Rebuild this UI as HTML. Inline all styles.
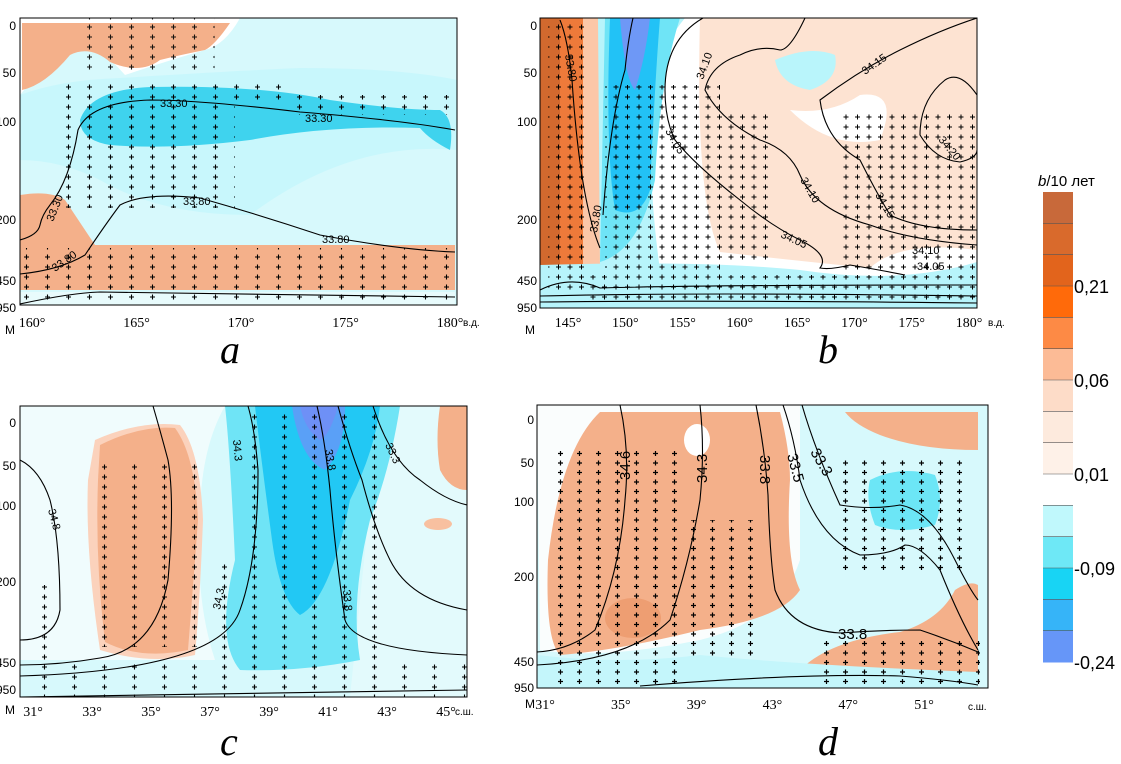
<!DOCTYPE html>
<html><head><meta charset="utf-8"><style>
body{margin:0;background:#fff}
svg{display:block;font-family:"Liberation Sans",sans-serif}
.t{font-size:12px}
.s{font-family:"Liberation Serif",serif;font-size:14px}
.lab{font-family:"Liberation Serif",serif;font-style:italic;font-size:40px}
.c{fill:none;stroke:#000;stroke-width:1.1}
.cl{font-size:11px}
</style></head><body>
<svg id="fig" width="1121" height="764" viewBox="0 0 1121 764">
<defs>
<pattern id="cra" x="1" y="2" width="21" height="10" patternUnits="userSpaceOnUse"><path d="M2,5h5M4.5,2.5v5" stroke="#000" stroke-width="1.1"/></pattern>
<pattern id="crb" x="2" y="2" width="11.5" height="10" patternUnits="userSpaceOnUse"><path d="M2,5h5M4.5,2.5v5" stroke="#000" stroke-width="1"/></pattern>
<pattern id="crc" x="10" y="2" width="30" height="10" patternUnits="userSpaceOnUse"><path d="M2,5h5M4.5,2.5v5" stroke="#000" stroke-width="1.1"/></pattern>
<pattern id="crd" x="5" y="2" width="19" height="9.5" patternUnits="userSpaceOnUse"><path d="M2,5h5M4.5,2.5v5" stroke="#000" stroke-width="1.2"/></pattern>
<clipPath id="ca"><rect x="20" y="18" width="437" height="287"/></clipPath>
<clipPath id="cb"><rect x="540" y="18" width="437" height="290"/></clipPath>
<clipPath id="cc"><rect x="20" y="406" width="447" height="291"/></clipPath>
<clipPath id="cd"><rect x="537" y="405" width="451" height="283"/></clipPath>
</defs>

<g clip-path="url(#ca)">
<rect x="20" y="18" width="437" height="287" fill="#d7f9fc"/>
<path d="M20,18H240Q225,45 205,50Q170,60 125,75Q95,40 65,45Q40,70 20,95Z" fill="#ffffff"/>
<path d="M22,23H230Q215,45 205,50Q180,55 160,60Q140,75 110,62Q90,45 70,55Q45,85 22,90Z" fill="#f4b08a"/>
<path d="M20,95Q60,80 120,78Q250,70 300,68Q400,68 457,80V150Q350,140 250,215Q160,215 100,180Q60,160 20,160Z" fill="#c4f6fb" opacity=".8"/>
<path d="M80,120Q90,90 150,87Q260,85 330,100Q400,110 440,110Q455,118 450,150Q430,140 420,128Q330,125 250,140Q170,150 110,145Q80,140 80,120Z" fill="#3fd3ee"/>
<path d="M20,195Q50,190 65,200Q85,230 95,245H455V290H20Z" fill="#f4b08a"/>
<path d="M20,292H455V305H20Z" fill="#e8fbfc"/>
<rect x="75" y="18" width="140" height="55" fill="url(#cra)" opacity=".9"/>
<rect x="55" y="83" width="180" height="125" fill="url(#cra)"/>
<rect x="235" y="83" width="50" height="20" fill="url(#cra)"/>
<rect x="285" y="95" width="170" height="20" fill="url(#cra)"/>
<rect x="20" y="248" width="440" height="57" fill="url(#cra)"/>
<path class="c" d="M20,240Q38,235 40,225Q42,215 50,205Q70,180 78,130Q90,102 150,100Q200,100 300,112Q400,120 455,130"/>
<path class="c" d="M20,274Q60,270 85,255Q105,225 120,205Q145,192 200,198Q260,215 320,235Q400,250 455,252"/>
<path class="c" d="M20,304Q70,293 100,292Q250,294 455,297"/>
<text class="cl" x="160" y="107">33.30</text><text class="cl" x="305" y="122">33.30</text>
<text class="cl" x="183" y="205">33.80</text><text class="cl" x="322" y="243">33.80</text>
<text class="cl" transform="translate(53,222) rotate(-68)">33.30</text>
<text class="cl" transform="translate(55,272) rotate(-35)">33.80</text>
</g>
<rect x="20" y="18" width="437" height="287" fill="none" stroke="#000"/>

<g clip-path="url(#cb)">
<rect x="540" y="18" width="437" height="290" fill="#ffffff"/>
<rect x="540" y="18" width="30" height="270" fill="#d2692e"/>
<path d="M560,18H585Q590,150 590,270L560,290Z" fill="#ee7a3a"/>
<path d="M583,18H600V290H583Z" fill="#fbc7a8"/>
<path d="M598,18H685Q650,60 650,120Q650,200 660,270H600Z" fill="#b7f4fb"/>
<path d="M605,18H680Q660,80 655,180Q640,250 600,262Z" fill="#6fe4f6"/>
<path d="M610,18H660Q655,80 650,190Q640,220 615,210Q605,150 610,18Z" fill="#22c2f6"/>
<path d="M620,18H650Q645,60 635,90Q625,80 620,18Z" fill="#6e98f6"/>
<path d="M700,18H977V250Q900,240 870,268Q790,260 720,252Q695,200 700,18Z" fill="#fde3d2"/>
<path d="M775,60Q810,45 835,55Q840,80 810,90Q780,85 775,60Z" fill="#b9f5fb"/>
<path d="M790,110Q830,115 860,95Q900,90 880,140Q830,150 790,110Z" fill="#ffffff"/>
<path d="M540,265Q700,260 800,270Q900,285 977,262V308H540Z" fill="#b7f4fb"/>
<rect x="548" y="22" width="40" height="270" fill="url(#crb)"/>
<rect x="605" y="85" width="115" height="200" fill="url(#crb)"/>
<rect x="700" y="110" width="70" height="150" fill="url(#crb)"/>
<rect x="840" y="110" width="135" height="160" fill="url(#crb)"/>
<rect x="590" y="275" width="390" height="28" fill="url(#crb)"/>
<path class="c" d="M560,20Q568,40 572,80Q580,200 600,248"/>
<path class="c" d="M603,215Q610,120 625,70Q628,40 633,18"/>
<path class="c" d="M703,18Q665,40 665,90Q665,120 675,140Q695,165 740,200Q770,225 800,240Q830,255 820,268Q830,270 850,265Q880,270 905,275"/>
<path class="c" d="M805,18Q790,50 780,50Q760,45 740,55Q710,65 705,90Q720,120 760,140Q790,150 800,175Q815,210 870,225Q910,240 977,245"/>
<path class="c" d="M977,18Q940,30 900,50Q860,70 820,100Q825,140 860,160Q875,190 890,215Q920,230 977,230"/>
<path class="c" d="M977,95Q960,70 945,80Q920,100 920,135Q935,160 960,162Q977,158 977,150"/>
<path class="c" d="M540,290Q570,275 600,288Q700,285 977,285"/>
<path class="c" d="M540,296Q700,292 977,296"/>
<path class="c" d="M540,302Q700,300 977,303"/>
<text class="cl" transform="translate(565,55) rotate(80)">33.80</text>
<text class="cl" transform="translate(597,233) rotate(-80)">33.80</text>
<text class="cl" transform="translate(665,131) rotate(60)">34.05</text>
<text class="cl" transform="translate(703,80) rotate(-70)">34.10</text>
<text class="cl" x="780" y="237" transform="rotate(25 780 237)">34.05</text>
<text class="cl" transform="translate(800,180) rotate(60)">34.10</text>
<text class="cl" transform="translate(865,75) rotate(-35)">34.15</text>
<text class="cl" transform="translate(938,140) rotate(50)">34.20</text>
<text class="cl" transform="translate(875,195) rotate(60)">34.15</text>
<text class="cl" x="912" y="254">34.10</text><text class="cl" x="917" y="270">34.05</text>
</g>
<rect x="540" y="18" width="437" height="290" fill="none" stroke="#000"/>

<g clip-path="url(#cc)">
<rect x="20" y="406" width="447" height="291" fill="#d7f9fc"/>
<path d="M20,406H225Q200,450 200,520Q195,600 215,660H20Z" fill="#f0fcfd"/>
<path d="M380,406H467V697H350Q360,600 380,406Z" fill="#e3fafc"/>
<path d="M95,440Q140,420 180,425Q200,450 203,520Q200,600 195,655Q150,665 100,650Q85,550 88,480Z" fill="#fbd2bc"/>
<path d="M100,445Q140,425 175,428Q195,455 198,520Q192,600 188,650Q140,660 105,642Q95,560 98,480Z" fill="#f4b08a"/>
<path d="M225,406H400Q390,470 370,520Q350,600 360,660Q300,672 240,670Q215,640 235,560Q230,450 225,406Z" fill="#6fe4f6"/>
<path d="M255,406H380Q375,450 350,500Q330,600 300,615Q280,600 272,540Q260,450 255,406Z" fill="#22c8f4"/>
<path d="M292,406H345Q345,450 325,470Q300,460 292,406Z" fill="#5aa0f7"/>
<path d="M300,406H338Q330,435 320,440Q305,430 300,406Z" fill="#6e90f6"/>
<path d="M440,406H467V490Q450,490 440,470Q435,440 440,406Z" fill="#f4b08a"/>
<ellipse cx="438" cy="524" rx="14" ry="6" fill="#f8c0a0"/>
<rect x="100" y="462" width="110" height="185" fill="url(#crc)"/>
<rect x="40" y="585" width="20" height="112" fill="url(#crc)"/>
<rect x="220" y="560" width="35" height="135" fill="url(#crc)"/>
<rect x="250" y="412" width="140" height="285" fill="url(#crc)"/>
<rect x="60" y="660" width="407" height="37" fill="url(#crc)"/>
<path class="c" d="M20,460Q40,470 50,500Q60,540 60,610Q55,640 20,640"/>
<path class="c" d="M153,406Q160,430 168,460Q175,500 168,580Q155,650 100,658Q60,665 20,665"/>
<path class="c" d="M248,406Q255,430 258,470Q258,560 240,610Q220,670 20,676"/>
<path class="c" d="M317,406Q325,440 330,490Q335,550 345,620Q355,650 467,655"/>
<path class="c" d="M338,406Q350,450 362,480Q375,530 390,560Q410,600 467,610"/>
<path class="c" d="M373,406Q390,460 420,480Q445,500 467,505"/>
<path class="c" d="M20,697Q300,692 467,690"/>
<text class="cl" transform="translate(48,510) rotate(75)">34.8</text>
<text class="cl" transform="translate(233,440) rotate(85)">34.3</text>
<text class="cl" transform="translate(220,610) rotate(-78)">34.3</text>
<text class="cl" transform="translate(325,450) rotate(80)">33.8</text>
<text class="cl" transform="translate(343,590) rotate(85)">33.8</text>
<text class="cl" transform="translate(385,445) rotate(65)">33.3</text>
</g>
<rect x="20" y="406" width="447" height="291" fill="none" stroke="#000"/>

<g clip-path="url(#cd)">
<rect x="537" y="405" width="451" height="283" fill="#d7f9fc"/>
<path d="M537,405H800V560Q780,620 700,640Q600,660 540,650Z" fill="#fafdfd"/>
<path d="M600,412H780Q790,450 790,480Q785,560 800,590Q780,620 700,630Q620,650 560,655Q545,640 548,560Q560,450 600,412Z" fill="#f4b08a"/>
<ellipse cx="633" cy="618" rx="28" ry="20" fill="#ee9e72"/>
<ellipse cx="697" cy="440" rx="13" ry="16" fill="#ffffff"/>
<path d="M845,412H978V450Q920,450 880,435Q855,425 845,412Z" fill="#f4b08a"/>
<path d="M870,480Q900,465 935,475Q945,500 935,525Q900,535 875,525Q865,500 870,480Z" fill="#6ce6f6"/>
<path d="M800,670Q830,640 900,632Q940,620 955,590Q970,580 978,585V680H800Z" fill="#f4b08a"/>
<path d="M537,655Q620,665 700,655Q800,665 978,672V688H537Z" fill="#c4f6fb"/>
<rect x="555" y="450" width="130" height="238" fill="url(#crd)"/>
<rect x="685" y="520" width="75" height="140" fill="url(#crd)"/>
<rect x="840" y="460" width="130" height="110" fill="url(#crd)"/>
<rect x="820" y="640" width="160" height="48" fill="url(#crd)"/>
<path class="c" d="M620,405Q630,450 625,500Q620,570 595,630Q570,650 537,652"/>
<path class="c" d="M700,405Q705,450 700,500Q690,560 670,620Q630,660 537,665"/>
<path class="c" d="M756,405Q765,450 768,495Q770,560 775,590Q790,630 840,633Q880,630 920,630Q950,640 978,652"/>
<path class="c" d="M783,405Q795,440 800,480Q820,540 860,555Q890,555 905,545Q920,545 940,570Q960,620 978,650"/>
<path class="c" d="M802,405Q815,450 840,505Q870,510 900,505Q930,510 955,560Q970,590 978,600"/>
<path class="c" d="M640,686Q800,673 900,676Q950,680 978,685"/>
</g>
<rect x="537" y="405" width="451" height="283" fill="none" stroke="#000"/>
<g>
<text transform="translate(630,480) rotate(-90)" style="font-size:15px">34.6</text>
<text transform="translate(707,483) rotate(-90)" style="font-size:15px">34.3</text>
<text transform="translate(760,455) rotate(90)" style="font-size:15px">33.8</text>
<text transform="translate(787,455) rotate(75)" style="font-size:15px">33.5</text>
<text transform="translate(810,452) rotate(60)" style="font-size:15px">33.3</text>
<text x="838" y="639" style="font-size:15px">33.8</text>
</g>

<g id="axes"></g>

<g id="cbar">
<text x="1038" y="186" style="font-size:15px"><tspan font-style="italic">b</tspan>/10 лет</text>
</g>

<text class="lab" x="220" y="363">a</text>
<text class="lab" x="818" y="363">b</text>
<text class="lab" x="220" y="755">c</text>
<text class="lab" x="818" y="755">d</text>
</svg>
<script>
const depthLabels=["0","50","100","200","450","950"];
const aDepthY=[26,73,122,220,281,308];
const cDepthY=[423,466,506,582,663,690];
const dDepthY=[420,463,502,577,662,688];
const aLon=[160,165,170,175,180];
const bLon=[145,150,155,160,165,170,175,180];
const cLat=[31,33,35,37,39,41,43,45];
const dLat=[31,35,39,43,47,51];
const cbColors=["#c8693a","#d96a2c","#e2641c","#ff6a0a","#fd8a45","#fcbb96","#fddcc8","#fdeadd","#fef1e8","#ffffff","#c0f8fc","#6ee8f6","#18d4f4","#36b4f8","#6696f8"];
const cbTicks=["0,21","0,06","0,01","-0,09","-0,24"];
const cbTickIdx=[3,6,9,12,15];
const NS="http://www.w3.org/2000/svg";
const axG=document.getElementById('axes');
function mk(tag,at,txt){const e=document.createElementNS(NS,tag);for(const k in at)e.setAttribute(k,at[k]);if(txt!==undefined)e.textContent=txt;return e;}
function depth(yArr,x){depthLabels.forEach((l,i)=>{const t=mk('text',{x:x,y:yArr[i]+4,'text-anchor':'end','class':'t'},l);


axG.appendChild(t);});}
function xt(arr,v0,v1,p0,p1,y){arr.forEach(v=>{const x=p0+(v-v0)/(v1-v0)*(p1-p0);const t=mk('text',{x:x,y:y,'text-anchor':'middle','class':'s'},v+'°');


axG.appendChild(t);});}
depth(aDepthY,16);depth(aDepthY,537);depth(cDepthY,16);depth(dDepthY,534);
xt(aLon,160,180,32,450,327);xt(bLon,145,180,568,969,327);xt(cLat,31,45,33,446,716);xt(dLat,31,51,545,924,709);
[[5,334],[525,334],[5,714],[525,708]].forEach(p=>{const t=mk('text',{x:p[0],y:p[1],'class':'t'},'М');


axG.appendChild(t);});
[[463,326,'в.д.'],[988,326,'в.д.'],[455,715,'с.ш.'],[968,710,'с.ш.']].forEach(p=>{const t=mk('text',{x:p[0],y:p[1],style:'font-size:10px'},p[2]);


axG.appendChild(t);});
const cbG=document.getElementById('cbar');
const cbTop=192,cbBot=662,cbH=(cbBot-cbTop)/cbColors.length;
cbColors.forEach((c,i)=>{const r=mk('rect',{x:1043,y:cbTop+i*cbH,width:30,height:cbH+0.5,fill:c});


cbG.appendChild(r);
if(i>0){const l=mk('line',{x1:1043,x2:1073,y1:cbTop+i*cbH,y2:cbTop+i*cbH,stroke:'#555','stroke-width':0.6});cbG.appendChild(l);}});
cbTicks.forEach((s,i)=>{const t=mk('text',{x:1074,y:cbTop+cbTickIdx[i]*cbH+7,style:'font-size:18px'},s);


cbG.appendChild(t);});
</script>
</body></html>
